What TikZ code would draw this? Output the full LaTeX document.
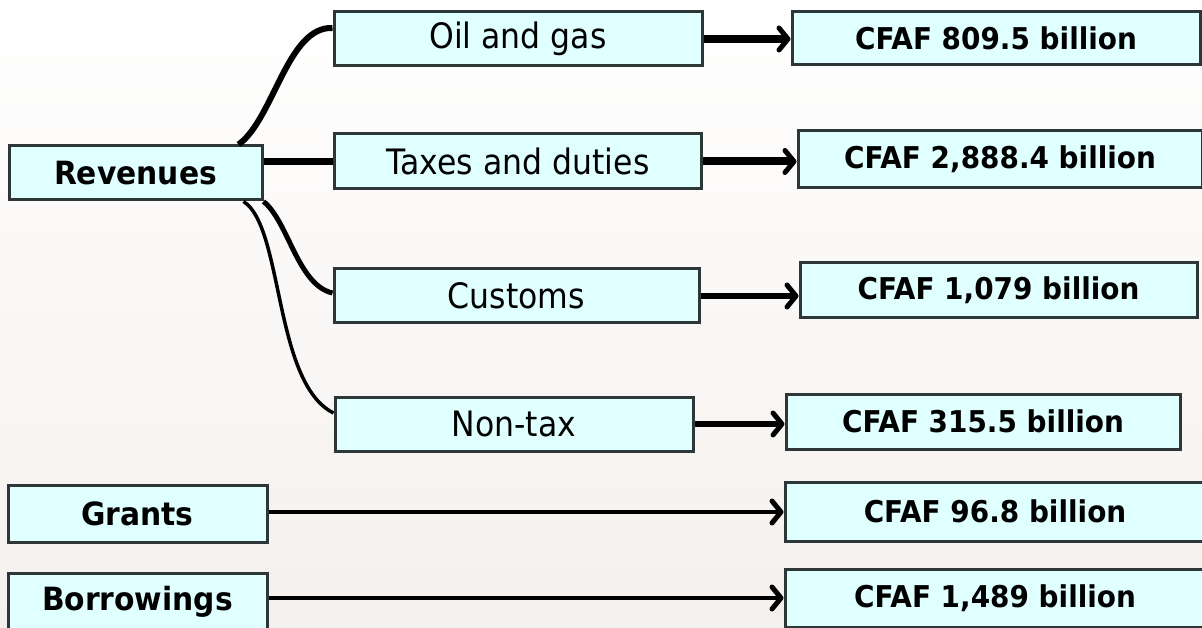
\documentclass[tikz,border=0pt]{standalone}
\usepackage{fontspec}
\setmainfont{DejaVu Sans}
\newfontfamily\itemfont{DejaVu Sans}[FakeStretch=0.9]
\newfontfamily\headfont{DejaVu Sans}[FakeStretch=0.93]
\usetikzlibrary{arrows.meta}
\definecolor{boxfill}{RGB}{224,255,255}
\definecolor{boxline}{RGB}{45,55,55}
\definecolor{paper}{RGB}{244,240,237}

\begin{document}
\begin{tikzpicture}[x=1pt,y=-1pt,
		box/.style={draw=boxline,fill=boxfill,line width=3pt,inner sep=0pt,minimum height=54pt},
		head/.style={box,font=\headfont\fontsize{32}{38}\selectfont\bfseries},
		item/.style={box,font=\itemfont\fontsize{35}{40}\selectfont},
		amount/.style={box,font=\headfont\fontsize{30}{36}\selectfont\bfseries},
		branch/.style={draw=black},
		flow/.style={draw=black,-{Straight Barb[length=9pt,width=22pt,line width=5pt,line cap=round,line join=round]}}]
		\shade[top color=white,bottom color=paper] (0,0) rectangle (1202,628);
		\useasboundingbox (0,0) rectangle (1202,628);
		% sources
		\node[head,minimum width=253pt] (rev) at (135.5,173) {Revenues};
		\node[head,minimum width=259pt,minimum height=57pt] (grant) at (137.5,513.5) {Grants};
		\node[head,minimum width=259pt,minimum height=57pt] (borrow) at (137.5,601.5) {Borrowings};
		% revenue items
		\node[item,minimum width=368pt] (oil) at (518,39) {Oil and gas};
		\node[item,minimum width=367pt,minimum height=55pt] (tax) at (518,161.5) {Taxes and duties};
		\node[item,minimum width=365pt] (cus) at (516.5,296) {Customs};
		\node[item,minimum width=358pt] (nontax) at (514,424) {Non-tax};
		% amounts
		\node[amount,minimum width=408pt,minimum height=53pt] (v1) at (996,38.5) {CFAF 809.5 billion};
		\node[amount,minimum width=404pt,minimum height=57pt] (v2) at (1000,159.5) {CFAF 2,888.4 billion};
		\node[amount,minimum width=397pt,minimum height=55pt] (v3) at (998.5,290.5) {CFAF 1,079 billion};
		\node[amount,minimum width=394pt,minimum height=55pt] (v4) at (983,421.5) {CFAF 315.5 billion};
		\node[amount,minimum width=420pt,minimum height=59pt] (v5) at (995,511.5) {CFAF 96.8 billion};
		\node[amount,minimum width=420pt,minimum height=58pt] (v6) at (995,598) {CFAF 1,489 billion};
		% branches
		\draw[branch,line width=6pt] ([xshift=-25pt]rev.north east) .. controls +(35,-25) and +(-45,-2) .. ([yshift=11pt]oil.west);
		\draw[branch,line width=7pt] (rev.east |- tax.west) -- (tax.west);
		\draw[branch,line width=5pt] (rev.south east) .. controls +(25,20) and +(-35,-8) .. ([yshift=3pt]cus.west);
		\draw[branch,line width=3.5pt] ([xshift=-20pt]rev.south east) .. controls +(40,25) and +(-60,-30) .. ([yshift=11pt]nontax.west);
		% arrows
		\draw[flow,line width=8pt] (oil.east) -- (oil.east -| v1.west);
		\draw[flow,line width=8pt] (tax.east) -- (tax.east -| v2.west);
		\draw[flow,line width=6pt] (cus.east) -- (cus.east -| v3.west);
		\draw[flow,line width=5.5pt] (nontax.east) -- (nontax.east -| v4.west);
		\draw[flow,line width=4.5pt] ([yshift=1.5pt]grant.east) -- ([yshift=1.5pt]grant.east -| v5.west);
		\draw[flow,line width=4.5pt] ([yshift=3.5pt]borrow.east) -- ([yshift=3.5pt]borrow.east -| v6.west);
	\end{tikzpicture}
\end{document}
